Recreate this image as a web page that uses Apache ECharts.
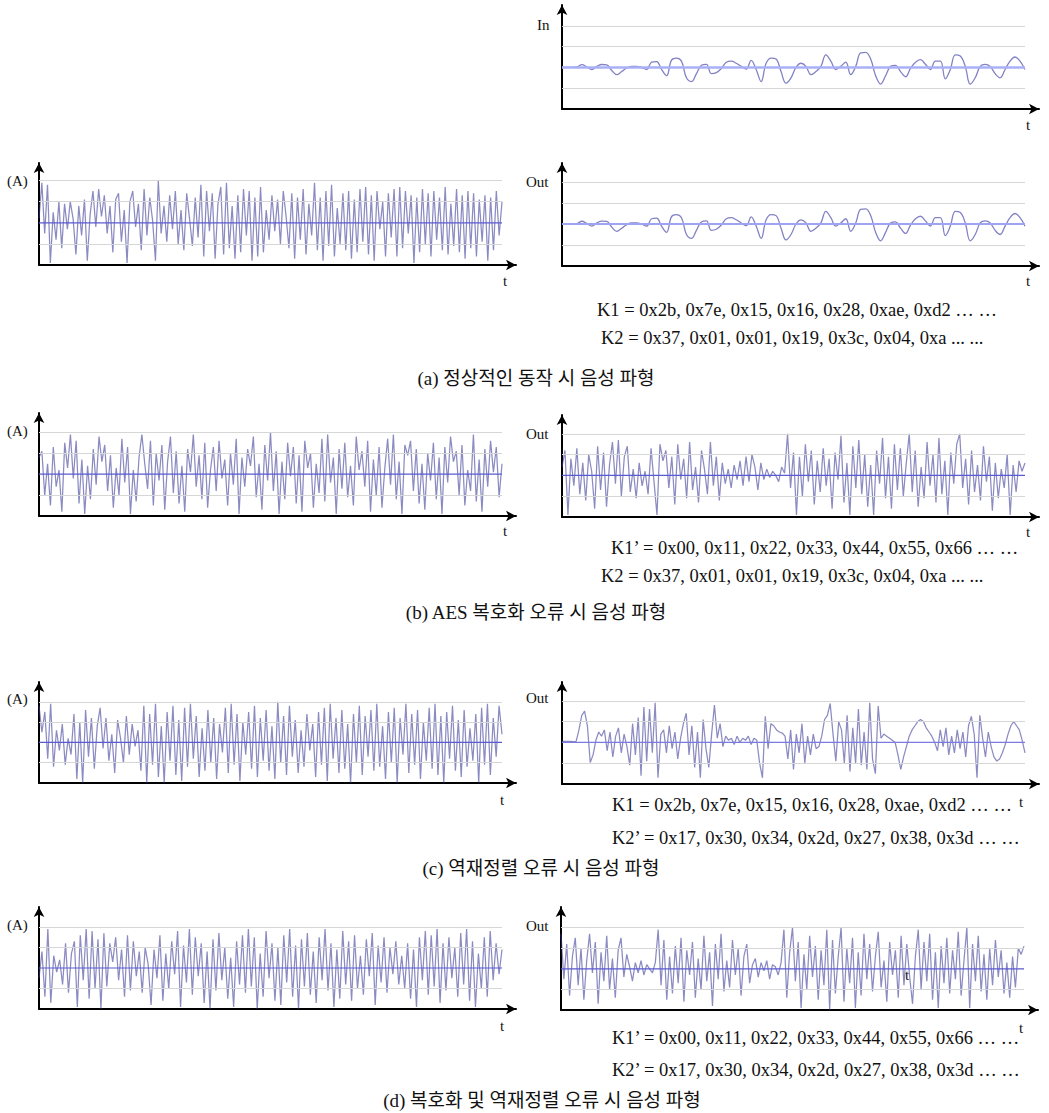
<!DOCTYPE html>
<html><head><meta charset="utf-8">
<script src="https://cdn.jsdelivr.net/npm/echarts@6/dist/echarts.min.js"></script>
<style>html,body{margin:0;padding:0;background:#fff}#c{width:1049px;height:1113px}</style>
</head><body><div id="c"></div>
<script>
// ---- waveform values (signal level, gridline units; 0 = centre line) ----
const inA = [0,0,0,0.02,0.13,0.02,-0.1,0.05,0.14,0.12,-0.15,-0.35,-0.2,-0.03,0.05,0.05,0,-0.1,0.25,0.28,-0.1,-0.4,0.35,0.45,0.3,-0.5,-0.68,-0.3,0.1,0.15,-0.3,-0.25,-0.05,0.25,0.3,0.2,0.05,-0.08,0.34,-0.1,-0.68,0.2,0.45,0.4,-0.2,-0.76,-0.5,0,0.2,0.05,-0.35,-0.2,0.05,0.6,0.3,-0.1,0.05,0.25,-0.35,0.05,0.7,0.72,0.4,-0.4,-0.8,-0.4,0.05,0.1,-0.2,-0.45,-0.05,0.25,0.37,0.15,-0.1,0.3,0.3,-0.55,-0.1,0.6,0.55,0.05,-0.8,-0.5,0.05,0.15,0.05,-0.3,-0.5,-0.1,0.3,0.5,0.3,-0.1];
const outA = [0,0,0,0.02,0.13,0.02,-0.1,0.05,0.14,0.12,-0.15,-0.35,-0.2,-0.03,0.05,0.05,0,-0.1,0.25,0.28,-0.1,-0.4,0.35,0.45,0.3,-0.5,-0.68,-0.3,0.1,0.15,-0.3,-0.25,-0.05,0.25,0.3,0.2,0.05,-0.08,0.34,-0.1,-0.68,0.2,0.45,0.4,-0.2,-0.76,-0.5,0,0.2,0.05,-0.35,-0.2,0.05,0.6,0.3,-0.1,0.05,0.25,-0.35,0.05,0.7,0.72,0.4,-0.4,-0.8,-0.4,0.05,0.1,-0.2,-0.45,-0.05,0.25,0.37,0.15,-0.1,0.3,0.3,-0.55,-0.1,0.6,0.55,0.05,-0.8,-0.5,0.05,0.15,0.05,-0.3,-0.5,-0.1,0.3,0.5,0.3,-0.1];
const srcA = [0.2,1.9,-0.5,1.8,-1.9,0.5,-0.8,1.0,-1.2,0.9,-0.3,1.0,0.2,-1.5,0.8,-0.6,1.1,-1.8,0.4,1.5,-0.2,1.6,0.3,1.3,-0.5,0.8,-1.4,1.1,1.4,-0.9,0.6,-1.9,1.0,1.5,-0.2,0.9,-1.3,1.6,-0.6,1.2,0.1,-1.8,2.0,-0.5,0.8,-0.9,1.3,-0.3,1.5,-1.0,0.6,-1.3,1.4,0.2,-1.1,1.2,-0.7,1.8,-1.6,1.5,-0.4,1.4,-1.7,0.9,1.7,-1.5,1.9,-1.2,0.8,-1.7,1.3,-1.4,1.6,-0.6,1.5,-1.8,1.2,-1.6,1.7,-1.4,0.6,-0.8,1.3,-0.4,1.1,-1.0,1.5,0.3,-1.2,1.4,-1.7,1.2,-0.8,1.6,-1.5,0.9,-0.6,1.9,-1.3,1.2,-1.8,1.5,-1.1,1.8,-1.6,0.7,-1.0,1.4,-1.3,1.5,-1.7,1.1,-1.4,1.6,-0.9,1.7,-1.5,1.3,-1.8,1.5,-0.3,1.0,-1.6,1.4,-0.7,1.6,-1.6,1.7,-1.2,1.5,-0.5,1.3,-1.9,1.2,-1.4,1.6,-1.0,1.4,-1.6,1.5,-0.8,1.2,-1.3,1.7,-1.5,0.9,-1.1,1.6,-1.4,1.3,-1.7,1.5,-1.2,1.4,-1.6,1.1,-0.9,1.3,-1.8,1.2,-1.3,1.5,-0.6,1.0];
const srcB = [0.8,1.1,-1.0,0.5,-1.5,1.3,-0.6,0.2,-1.8,1.5,0.3,1.9,-0.2,1.6,-1.4,0.7,-1.9,0.4,-1.2,1.2,-0.5,1.8,0.6,1.4,-0.8,0.9,-1.6,0.3,-1.0,1.7,-0.4,1.3,-1.9,0.2,-1.3,0.8,1.9,0.5,-0.7,1.6,-1.5,1.0,-0.3,1.4,-1.7,0.6,1.8,-0.9,1.1,-1.4,0.4,-1.8,1.2,0.1,1.9,-0.6,0.9,-1.2,1.5,-1.6,0.2,1.3,-0.8,1.6,-0.2,0.7,-1.5,1.0,-0.5,1.7,-1.9,0.8,-0.6,1.2,0.4,1.8,-1.1,0.5,-1.7,1.4,-0.3,2.0,-0.8,1.1,-1.9,0.6,-1.2,1.5,-0.1,1.3,-1.4,0.9,-1.8,1.6,0.3,1.0,-1.6,0.5,-0.9,1.7,-1.3,1.9,-0.4,0.8,-1.9,1.2,-0.7,1.5,-1.1,0.4,-1.5,1.8,0.2,1.1,-0.6,1.6,-1.8,0.7,-1.0,1.3,-1.6,0.3,1.7,-0.5,1.9,-1.2,0.6,-1.9,1.4,0.9,1.6,-0.8,1.2,-1.4,0.5,-1.7,1.0,-0.3,1.5,-1.2,0.8,-1.9,1.3,-0.4,1.8,0.6,1.1,-1.0,1.4,-1.5,0.2,-0.8,1.9,-1.3,0.7,-1.8,1.2,-0.6,1.6,0.1,1.3,-1.1,0.5];
const outB = [0.4,1.2,-1.9,0.8,-0.5,1.3,-0.9,0.6,-1.2,1.0,0.2,-1.6,1.4,-0.7,1.1,-1.5,0.5,1.6,-0.4,1.7,-1.0,0.9,1.4,-0.8,0.3,-1.1,0.6,-0.5,0.2,-0.9,1.3,-0.3,-1.9,1.5,0.7,1.2,-0.6,0.9,-1.4,1.5,-0.2,0.8,-1.1,1.6,-0.7,0.4,-1.3,1.2,0.3,-0.9,1.6,-0.5,0.9,-1.2,0.6,-0.4,0.3,-0.6,0.5,-0.2,0.7,-0.5,0.9,-0.3,1.0,0.4,-0.7,0.6,-0.2,0.3,-0.1,0.2,0.0,-0.3,0.4,0.1,2.0,-0.6,1.1,-1.9,0.9,-1.0,1.5,-0.3,1.2,-1.4,0.7,-0.8,1.3,-0.5,0.8,-1.6,1.1,-0.2,1.9,-1.3,0.6,-1.9,1.4,-0.6,1.7,-0.9,1.0,-1.5,0.5,-1.9,1.2,-0.4,1.8,-1.1,0.9,-1.6,1.5,-0.7,1.3,-1.0,0.6,2.0,-0.8,1.2,-1.5,0.4,-1.1,1.6,-0.5,1.0,-1.3,1.8,-0.9,0.7,-1.9,1.1,-0.4,1.5,2.0,-0.6,0.8,-1.4,1.2,-0.8,0.5,-1.2,1.4,-0.3,0.9,-1.7,0.6,-1.1,0.3,-0.6,1.0,-1.9,0.5,-0.8,0.7,0.2,0.6];
const srcC = [1.8,0.5,1.5,-0.8,1.9,-1.2,0.6,-0.4,0.9,-1.1,0.2,-0.6,1.4,-1.8,1.0,-2.0,1.6,-0.7,1.2,-1.3,0.8,1.7,-0.3,1.2,-0.9,0.4,-1.5,1.1,0.2,-1.0,1.3,-0.6,0.9,-0.2,0.6,-1.4,1.8,-2.0,1.4,-1.1,1.9,-1.7,0.8,-2.0,1.5,-0.9,1.8,-1.6,1.1,-1.9,1.7,-1.2,1.9,-0.8,1.3,-1.7,0.7,-1.4,1.6,-1.0,1.2,-1.8,0.9,-0.5,1.7,-1.5,1.9,-1.1,1.4,-1.9,1.0,-0.6,1.5,-1.3,1.8,-1.7,1.2,-0.9,1.6,-1.4,0.8,-1.8,2.0,-1.0,1.3,-1.6,1.8,-0.7,1.1,-1.5,0.6,-1.2,1.4,-0.4,0.9,-1.7,1.5,-1.1,1.7,-1.9,1.9,-0.8,1.2,-1.5,1.6,-1.3,0.9,-2.0,1.4,-1.0,1.8,-1.6,1.3,-0.7,1.6,-1.4,1.9,-1.2,0.8,-1.8,1.5,-1.0,1.7,-2.0,1.2,-0.6,1.9,-1.5,1.4,-1.1,1.6,-1.8,1.0,-0.9,1.7,-1.3,1.9,-1.6,1.3,-2.0,1.5,-0.8,1.8,-1.4,1.1,-1.7,1.6,-1.2,0.7,-0.9,1.4,-2.0,1.7,-1.1,1.9,-1.6,1.2,-0.7,1.8,0.4];
const outC = [0.05,0.05,0.05,0.05,0.04,0.05,0.6,1.3,1.5,0.8,-0.97,-0.6,0.1,0.5,0.3,0.6,-0.4,0.5,-0.7,0.3,0.7,-0.5,0.4,-0.2,-1.1,0.9,-0.6,1.2,-1.6,1.7,-0.9,1.6,-0.5,1.9,-1.7,0.4,0.6,-0.5,0.8,-0.3,0.5,-0.8,0.2,0.9,1.4,-0.6,0.8,-1.2,0.5,-1.7,1.1,-0.3,-1.2,0.4,1.8,0.2,0.9,-0.2,0.3,0.1,0.2,-0.1,0.3,0.0,0.2,0.1,0.3,-0.1,0.2,0.1,-1.0,-1.7,1.25,-0.3,0.9,0.8,0.6,0.5,0.45,0.3,-0.8,0.6,-1.3,0.4,-0.5,0.9,-1.0,0.3,-0.6,0.4,-0.3,-0.2,0.3,1.1,1.3,1.87,0.4,-0.9,1.0,0.6,-1.0,1.3,-1.4,0.7,-1.0,1.6,-1.1,0.5,-1.3,1.9,-0.8,-1.5,1.75,0.2,0.4,0.3,0.2,0.1,0.0,-0.6,-1.3,-0.7,-0.2,0.3,0.6,0.8,1.0,1.1,1.0,0.7,0.5,0.3,0.0,-0.4,0.6,-0.2,0.7,-0.6,0.3,-0.5,0.6,-0.3,0.5,-0.7,0.8,1.25,0.4,-1.7,1.3,0.2,-0.7,0.5,-0.2,-0.7,-0.9,-0.8,-0.5,-0.1,0.4,0.8,1.0,0.8,0.6,0.1,-0.5];
const srcD = [-0.5,0.8,-1.4,1.9,-1.7,0.6,-0.2,0.4,-0.8,1.2,-1.2,0.7,1.3,-1.9,1.6,-0.6,1.9,-1.5,1.8,-1.0,1.4,-2.0,1.7,-0.9,1.2,0.3,1.5,-0.6,0.9,-1.4,1.6,-1.1,1.3,-0.4,0.8,-1.2,1.0,0.2,-1.8,0.9,-0.5,1.6,-1.6,0.7,-1.0,1.3,-0.3,1.8,-1.9,1.1,-0.7,1.9,-1.3,1.5,-0.4,1.2,-1.7,0.8,-2.0,1.4,-1.1,1.7,-0.6,1.0,-1.5,0.5,-1.9,1.3,-0.8,1.6,-1.2,1.9,-0.9,1.5,-2.0,0.7,-1.4,1.8,-0.5,1.2,-1.6,1.0,-1.8,1.6,-0.7,1.9,-1.4,1.1,-2.0,1.4,-0.9,1.7,-1.3,0.8,-1.7,1.5,-0.6,1.9,-1.1,1.2,-1.9,0.9,-1.5,1.8,-0.8,1.3,-1.6,1.6,-1.0,0.6,-1.3,1.4,-0.4,1.7,-1.8,1.1,-0.7,1.5,-1.2,1.0,-0.3,1.3,-0.8,0.6,-1.0,1.2,-1.5,0.9,-1.9,1.5,-0.6,1.8,-1.3,1.6,-0.9,1.9,-1.7,1.2,-1.1,1.5,-0.5,1.0,-1.4,1.7,-0.8,1.9,-1.6,1.3,-1.9,0.7,-1.0,1.5,-1.4,1.8,-0.6,1.2,-0.3,0.9];
const outD = [1.7,-0.5,1.2,-1.3,0.6,1.5,-0.8,1.0,-1.5,0.4,1.7,-0.2,1.3,-1.7,0.8,-0.6,1.6,-1.0,0.5,-1.4,0.9,1.5,-0.4,0.7,0.1,-0.6,0.3,-0.2,0.4,-0.3,0.2,0.0,-0.2,0.3,1.9,-0.8,1.4,-1.5,0.6,-1.2,1.1,-0.7,1.5,-1.6,0.9,-0.3,1.3,-1.4,0.5,-1.0,1.6,-0.6,0.8,-1.8,1.2,-0.5,1.7,-1.1,0.4,-0.9,1.4,-0.3,1.0,-1.3,0.6,1.2,-0.7,0.2,0.5,-0.4,0.3,-0.1,0.4,-0.5,0.2,0.1,-0.3,0.3,1.9,-1.4,0.8,2.0,-0.6,1.3,-1.9,0.7,-1.0,1.6,-0.4,1.1,-1.5,0.9,-0.8,1.9,-2.0,1.4,-1.2,0.6,2.0,-1.6,1.0,-0.7,1.5,-1.9,0.8,-1.3,1.7,-0.5,1.2,-1.1,0.6,1.8,-0.9,0.4,-1.6,1.3,-0.3,0.9,-1.4,1.6,-0.8,1.2,-0.4,-1.7,0.6,1.9,-1.0,1.3,-0.6,1.7,-1.5,0.8,-1.9,1.1,-0.7,1.5,-1.2,0.9,-0.5,1.8,-1.3,0.4,2.0,-1.9,1.2,-0.6,1.6,-1.1,0.7,-1.5,1.0,-0.8,1.4,-0.4,0.9,-1.2,0.3,-1.4,0.6,-0.9,1.0,0.7,1.1];
const gridLevels = [-1, 1, 2];

// ---- panel layout ----
const NOISY = 'rgba(55,55,150,0.58)';
const panels = [
  {data: srcA, left: 39,  top: 163, bottom: 265,  unit: 21.1, wave:NOISY, mid:'#5a5ad2', midW:1.2},
  {data: inA,  left: 562, top: 5,   bottom: 109,  unit: 20.8, wave:'#8282c4', mid:'#aab0f7', midW:2.5, waveW:1.3, smooth:0.4},
  {data: outA, left: 562, top: 163, bottom: 266,  unit: 21.0, wave:'#8282c4', mid:'#9ea4f2', midW:1.8, waveW:1.3, smooth:0.4},
  {data: srcB, left: 39,  top: 413, bottom: 516,  unit: 20.9, wave:NOISY, mid:'#5a5ad2', midW:1.2},
  {data: outB, left: 562, top: 415, bottom: 517,  unit: 20.8, wave:NOISY, mid:'#5a5ad2', midW:1.2},
  {data: srcC, left: 39,  top: 682, bottom: 783,  unit: 20.3, wave:NOISY, mid:'#5a5ad2', midW:1.2},
  {data: outC, left: 562, top: 682, bottom: 784,  unit: 20.8, wave:NOISY, mid:'#7a7ae0', midW:1.2},
  {data: srcD, left: 39,  top: 907, bottom: 1009, unit: 20.5, wave:NOISY, mid:'#5a5ad2', midW:1.2},
  {data: outD, left: 561, top: 907, bottom: 1010, unit: 20.6, wave:NOISY, mid:'#5a5ad2', midW:1.2}
];

const grid = [], xAxis = [], yAxis = [], series = [];
panels.forEach((p, k) => {
  const n = p.data.length;
  grid.push({left: p.left, top: p.top, width: 477, height: p.bottom - p.top, containLabel: false});
  xAxis.push({type:'value', gridIndex:k, min:0, max:(n-1)*477/463,
    axisLine:{show:true, onZero:false, lineStyle:{color:'#000', width:2}, symbol:['none','arrow'], symbolSize:[8,10]},
    axisTick:{show:false}, axisLabel:{show:false}, splitLine:{show:false}});
  yAxis.push({type:'value', gridIndex:k, min:-2, max:-2 + (p.bottom - p.top)/p.unit,
    axisLine:{show:true, onZero:false, lineStyle:{color:'#000', width:2}, symbol:['none','arrow'], symbolSize:[8,10]},
    axisTick:{show:false}, axisLabel:{show:false}, splitLine:{show:false}});
  const ml = gridLevels.map(v => [
    {coord:[0, v], lineStyle:{color:'#d6d6d6', width:1, type:'solid'}},
    {coord:[n-1, v]}]);
  series.push({type:'line', xAxisIndex:k, yAxisIndex:k, silent:true, z:1,
    data:[[0,0],[n-1,0]], showSymbol:false, lineStyle:{width:0},
    markLine:{silent:true, symbol:'none', label:{show:false}, animation:false, data:ml}});
  series.push({type:'line', xAxisIndex:k, yAxisIndex:k, z:2,
    data:p.data.map((v,i)=>[i,v]), showSymbol:false, smooth:p.smooth || false,
    lineStyle:{color:p.wave, width:p.waveW || 1.25}});
  series.push({type:'line', xAxisIndex:k, yAxisIndex:k, silent:true, z:3,
    data:[[0,0],[n-1,0]], showSymbol:false, lineStyle:{color:p.mid, width:p.midW}});
});

// ---- texts ----
const SERIF = '"Liberation Serif","Times New Roman","Noto Sans CJK KR",serif';
const labelTexts = [
  ['In', 537, 25], ['(A)', 7, 181], ['Out', 526, 182], ['t', 503, 281], ['t', 1026, 125], ['t', 1026, 281],
  ['(A)', 7, 431], ['Out', 526, 434], ['t', 503, 531], ['t', 1026, 532],
  ['(A)', 7, 699], ['Out', 526, 698], ['t', 500, 800], ['t', 1019, 802],
  ['(A)', 7, 925], ['Out', 526, 926], ['t', 500, 1026], ['t', 1019, 1028], ['t', 905, 975]
];
const keyTexts = [
  ['K1 = 0x2b, 0x7e, 0x15, 0x16, 0x28, 0xae, 0xd2 … …', 597, 310],
  ['K2 = 0x37, 0x01, 0x01, 0x19, 0x3c, 0x04, 0xa ... ...', 601, 338],
  ['K1’ = 0x00, 0x11, 0x22, 0x33, 0x44, 0x55, 0x66 … …', 611, 548],
  ['K2 = 0x37, 0x01, 0x01, 0x19, 0x3c, 0x04, 0xa ... ...', 601, 576],
  ['K1 = 0x2b, 0x7e, 0x15, 0x16, 0x28, 0xae, 0xd2 … …', 612, 805],
  ['K2’ = 0x17, 0x30, 0x34, 0x2d, 0x27, 0x38, 0x3d … …', 612, 838],
  ['K1’ = 0x00, 0x11, 0x22, 0x33, 0x44, 0x55, 0x66 … …', 612, 1038],
  ['K2’ = 0x17, 0x30, 0x34, 0x2d, 0x27, 0x38, 0x3d … …', 612, 1070]
];
const captions = [
  ['(a) 정상적인 동작 시 음성 파형', 536, 378],
  ['(b) AES 복호화 오류 시 음성 파형', 536, 612],
  ['(c) 역재정렬 오류 시 음성 파형', 541, 868],
  ['(d) 복호화 및 역재정렬 오류 시 음성 파형', 542, 1100]
];
const graphic = [];
labelTexts.forEach(t => graphic.push({type:'text', x:t[1], y:t[2], z:10,
  style:{text:t[0], font:'15px ' + SERIF, fill:'#111', align:'left', verticalAlign:'middle'}}));
keyTexts.forEach(t => graphic.push({type:'text', x:t[1], y:t[2], z:10,
  style:{text:t[0], font:'18.5px ' + SERIF, fill:'#111', align:'left', verticalAlign:'middle'}}));
captions.forEach(t => graphic.push({type:'text', x:t[1], y:t[2], z:10,
  style:{text:t[0], font:'19px ' + SERIF, fill:'#111', align:'center', verticalAlign:'middle'}}));

const chart = echarts.init(document.getElementById('c'), null, {renderer:'svg', width:1049, height:1113});
chart.setOption({animation:false, backgroundColor:'#fff', grid, xAxis, yAxis, series, graphic});
</script></body></html>
